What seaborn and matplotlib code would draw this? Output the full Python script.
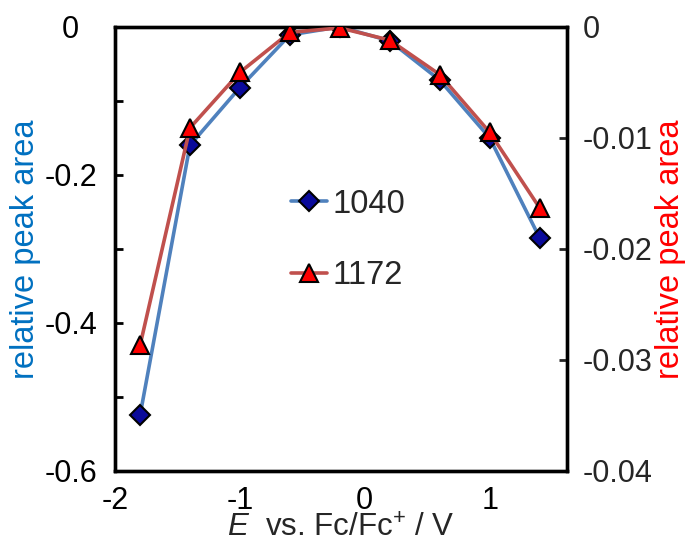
import matplotlib
matplotlib.use("Agg")
import matplotlib.pyplot as plt
import seaborn as sns
import pandas as pd
from matplotlib.lines import Line2D

# Potential (V vs Fc/Fc+)
potential = [-1.8, -1.4, -1.0, -0.6, -0.2, 0.2, 0.6, 1.0, 1.4]
# relative peak area of the 1040 band (left axis)
area_1040 = [-0.525, -0.160, -0.082, -0.011, 0.0, -0.019, -0.072, -0.150, -0.285]
# relative peak area of the 1172 band (right axis)
area_1172 = [-0.0287, -0.0091, -0.0041, -0.0005, -0.0001, -0.0012, -0.0043, -0.0095, -0.0163]

x_ticks = [-2, -1.5, -1, -0.5, 0, 0.5, 1, 1.5]
x_ticklabels = ["-2", "", "-1", "", "0", "", "1", ""]
left_ticks = [0, -0.1, -0.2, -0.3, -0.4, -0.5, -0.6]
left_ticklabels = ["0", "", "-0.2", "", "-0.4", "", "-0.6"]
right_ticks = [0, -0.01, -0.02, -0.03, -0.04]
right_ticklabels = ["0", "-0.01", "-0.02", "-0.03", "-0.04"]

sns.set_style("white")
plt.rcParams["font.family"] = ["Liberation Sans", "DejaVu Sans"]
plt.rcParams["mathtext.fontset"] = "custom"
plt.rcParams["mathtext.rm"] = "Liberation Sans"
plt.rcParams["mathtext.it"] = "Liberation Sans:italic"

df = pd.DataFrame({"E": potential, "a1040": area_1040, "a1172": area_1172})

fig = plt.figure(figsize=(6.89, 5.47), dpi=100)
ax = fig.add_axes([0.167, 0.139, 0.656, 0.812])
ax2 = ax.twinx()

blue_line = "#4f81bd"
red_line = "#c0504d"
diamond = dict(marker="D", markersize=10, markerfacecolor="#0a0a9a",
               markeredgecolor="black", markeredgewidth=1.5)
triangle = dict(marker="^", markersize=12.5, markerfacecolor="#ff0000",
                markeredgecolor="black", markeredgewidth=1.5)

sns.lineplot(data=df, x="E", y="a1040", ax=ax, color=blue_line, lw=2.6,
             zorder=3, **diamond)
sns.lineplot(data=df, x="E", y="a1172", ax=ax2, color=red_line, lw=2.6,
             zorder=3, **triangle)

fs = 22
ax.set_xlim(-2, 1.62)
ax.set_ylim(-0.6, 0)
ax2.set_ylim(-0.04, 0)

ax.set_xticks(x_ticks)
ax.set_xticklabels(x_ticklabels, fontsize=fs)
ax.set_yticks(left_ticks)
ax.set_yticklabels(left_ticklabels, fontsize=fs, ha="center")
ax2.set_yticks(right_ticks)
ax2.set_yticklabels(right_ticklabels, fontsize=fs)

ax.tick_params(axis="x", direction="in", length=6, width=2, pad=11, colors="black")
ax.tick_params(axis="y", direction="in", length=6, width=2, pad=32, colors="black")
ax2.tick_params(axis="y", direction="in", length=6, width=2, pad=11)

for a in (ax, ax2):
    for s in a.spines.values():
        s.set_linewidth(2.4)
        s.set_color("black")

ax.set_xlabel(r"$\mathit{E}$  vs. Fc/Fc$^{+}$ / V", fontsize=22.5, labelpad=-2)
ax.set_ylabel("relative peak area", fontsize=23.5, color="#0070c0", labelpad=2)
ax2.set_ylabel("relative peak area", fontsize=23.5, color="#ff0000", labelpad=2)

handles = [
    Line2D([], [], color=blue_line, lw=2.6, **diamond),
    Line2D([], [], color=red_line, lw=2.6, **triangle),
]
ax.legend(handles, ["1040", "1172"], loc="center left", bbox_to_anchor=(0.39, 0.52),
          frameon=False, fontsize=23.5, handlelength=1.1, handletextpad=0.15,
          labelspacing=1.25, borderpad=0, borderaxespad=0)

fig.savefig("out.png", dpi=100)
